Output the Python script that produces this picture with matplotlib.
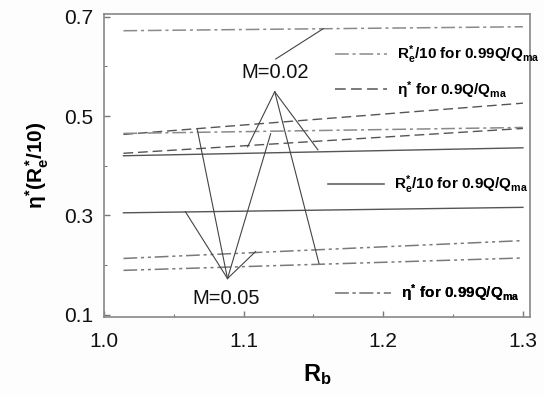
import matplotlib
matplotlib.use("Agg")
import matplotlib.pyplot as plt
from matplotlib.lines import Line2D

plt.rcParams['font.family'] = ['Liberation Sans', 'DejaVu Sans']
plt.rcParams['mathtext.fontset'] = 'custom'
plt.rcParams['mathtext.rm'] = 'Liberation Sans:bold'
plt.rcParams['mathtext.it'] = 'Liberation Sans:bold'
plt.rcParams['mathtext.bf'] = 'Liberation Sans:bold'

# ---- data ----
rb = [1.014, 1.300]
re_099 = [0.672, 0.680]        # R_e*/10 for 0.99Q/Qma (dash-dot, top)
eta_09_a = [0.463, 0.526]      # eta* for 0.9Q/Qma (dashed)
re_099_b = [0.465, 0.477]      # R_e*/10 for 0.99Q/Qma (dash-dot, middle)
eta_09_b = [0.425, 0.475]      # eta* for 0.9Q/Qma (dashed)
re_09_a = [0.420, 0.436]       # R_e*/10 for 0.9Q/Qma (solid, upper)
re_09_b = [0.305, 0.316]       # R_e*/10 for 0.9Q/Qma (solid, lower)
eta_099_a = [0.213, 0.249]     # eta* for 0.99Q/Qma (dash-dot-dot)
eta_099_b = [0.189, 0.214]     # eta* for 0.99Q/Qma (dash-dot-dot)

# annotation labels and pointer targets
m002_text = (1.1223, 0.587)
m002_apex = (1.1223, 0.549)
m002_targets = [(1.1029, 0.438), (1.1532, 0.432), (1.1540, 0.203)]
m002_upper = [(1.123, 0.615), (1.157, 0.676)]
m005_text = (1.0878, 0.132)
m005_apex = (1.0885, 0.1725)
m005_targets = [(1.0583, 0.3074), (1.0669, 0.4725), (1.1194, 0.4644), (1.1086, 0.2269)]

xticks = [1.0, 1.1, 1.2, 1.3]
yticks = [0.1, 0.3, 0.5, 0.7]
legend_labels = [r'$R_e^{*}$/10 for 0.99Q/Q$_{ma}$',
                 r'$\eta^{*}$ for 0.9Q/Q$_{ma}$',
                 r'$R_e^{*}$/10 for 0.9Q/Q$_{ma}$',
                 r'$\eta^{*}$ for 0.99Q/Q$_{ma}$']

# ---- styles ----
DASH = (0, (7, 3.5))
DASHDOT = (0, (9, 2.5, 2, 2.5))
DASHDOTDOT = (0, (9, 2.5, 2, 2.5, 2, 2.5))
c_solid = '#555555'
c_dash = '#555555'
c_dd = '#8a8a8a'
c_ddd = '#7a7a7a'

fig = plt.figure(figsize=(5.44, 3.96), dpi=100)
fig.patch.set_facecolor('#fdfdfd')
ax = fig.add_axes([0.191, 0.1995, 0.783, 0.7655])
ax.set_facecolor('white')

ax.plot(rb, re_099, color=c_dd, lw=1.1, linestyle=DASHDOT)
ax.plot(rb, eta_09_a, color=c_dash, lw=1.0, linestyle=DASH)
ax.plot(rb, re_099_b, color=c_dd, lw=1.1, linestyle=DASHDOT)
ax.plot(rb, eta_09_b, color=c_dash, lw=1.0, linestyle=DASH)
ax.plot(rb, re_09_a, color=c_solid, lw=1.0, linestyle='-')
ax.plot(rb, re_09_b, color=c_solid, lw=1.0, linestyle='-')
ax.plot(rb, eta_099_a, color=c_ddd, lw=1.1, linestyle=DASHDOTDOT)
ax.plot(rb, eta_099_b, color=c_ddd, lw=1.1, linestyle=DASHDOTDOT)

pc = '#444444'
for tx, ty in m002_targets:
    ax.plot([m002_apex[0], tx], [m002_apex[1], ty], color=pc, lw=0.8)
ax.plot([p[0] for p in m002_upper], [p[1] for p in m002_upper], color=pc, lw=0.8)
for tx, ty in m005_targets:
    ax.plot([m005_apex[0], tx], [m005_apex[1], ty], color=pc, lw=0.8)

ax.text(*m002_text, 'M=0.02', ha='center', va='center', fontsize=14.5, color='#111111')
ax.text(*m005_text, 'M=0.05', ha='center', va='center', fontsize=14.5, color='#111111')

# legends (individual entries placed like the reference)
entries = [
    (DASHDOT, c_dd, legend_labels[0], 0.542, 0.865, 3.4),
    (DASH, c_dash, legend_labels[1], 0.542, 0.749, 3.4),
    ('-', c_solid, legend_labels[2], 0.526, 0.436, 3.7),
    (DASHDOT, c_dd, legend_labels[3], 0.542, 0.079, 3.7),
]
for ls, col, lab, xx, yy, hl in entries:
    h = Line2D([], [], color=col, linestyle=ls, lw=1.1)
    leg = ax.legend([h], [lab], loc='center left', bbox_to_anchor=(xx, yy),
                    frameon=False, handlelength=hl, handletextpad=0.65,
                    borderaxespad=0, borderpad=0,
                    prop={'weight': 'bold', 'size': 11})
    ax.add_artist(leg)

ax.set_xlim(1.0, 1.305)
ax.set_ylim(0.095, 0.706)
ax.set_xticks(xticks)
ax.set_xticklabels(['1.0', '1.1', '1.2', '1.3'])
ax.set_yticks(yticks)
ax.set_yticklabels(['0.1', '0.3', '0.5', '0.7'])
ax.set_xticks([1.05, 1.15, 1.25], minor=True)
ax.set_yticks([0.2, 0.4, 0.6], minor=True)
ax.tick_params(which='both', direction='in', top=False, right=False,
               color='#777777', labelsize=15, labelcolor='#111111')
ax.tick_params(which='major', length=4, width=1.0)
ax.tick_params(axis='x', which='major', pad=11)
ax.tick_params(axis='y', which='major', pad=8)
ax.tick_params(which='minor', length=2.5, width=0.8)
for s in ax.spines.values():
    s.set_color('#888888')
    s.set_linewidth(1.2)

ax.set_xlabel(r'$\mathbf{R_b}$', fontsize=17, labelpad=8)
ax.set_ylabel(r'$\eta^{*}(R_e^{*}/10)$', fontsize=15, labelpad=9)

fig.savefig('out.png', dpi=100, facecolor=fig.get_facecolor())
